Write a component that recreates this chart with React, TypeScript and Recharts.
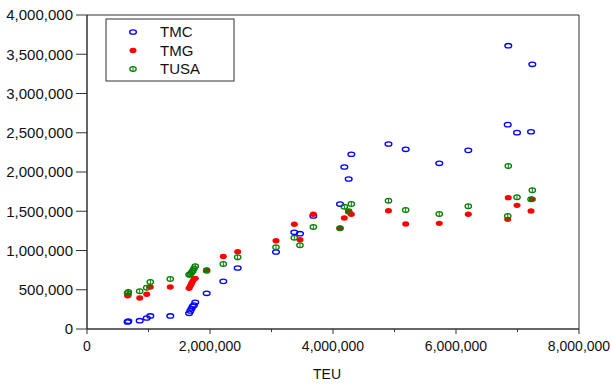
import React from 'react';
import { ScatterChart, Scatter, XAxis, YAxis, ReferenceArea } from 'recharts';

const teu = [
  660000, 672000, 857000, 971000, 1029000, 1354000,
  1660000, 1680000, 1700000, 1720000, 1740000, 1760000,
  1946000, 2216000, 2450000, 3073000, 3371000, 3463000, 3680000,
  4114000, 4184000, 4255000, 4298000, 4902000, 5182000, 5728000, 6200000,
  6841000, 6850000, 6992000, 7220000, 7241000,
];
const tmc = [
  90000, 100000, 106000, 140000, 166000, 166000,
  200000, 230000, 260000, 290000, 305000, 340000,
  455000, 607000, 777000, 981000, 1232000, 1214000, 1440000,
  1592000, 2064000, 1911000, 2226000, 2357000, 2289000, 2111000, 2276000,
  2603000, 3609000, 2501000, 2513000, 3372000,
];
const tmg = [
  424000, 433000, 395000, 442000, 535000, 535000,
  520000, 550000, 580000, 610000, 640000, 645000,
  752000, 924000, 985000, 1125000, 1334000, 1138000, 1461000,
  1283000, 1414000, 1490000, 1461000, 1507000, 1338000, 1346000, 1461000,
  1397000, 1673000, 1575000, 1503000, 1652000,
];
const tusa = [
  455000, 470000, 480000, 526000, 599000, 637000,
  690000, 700000, 720000, 740000, 770000, 800000,
  743000, 828000, 913000, 1040000, 1163000, 1066000, 1300000,
  1283000, 1558000, 1500000, 1592000, 1634000, 1516000, 1465000, 1563000,
  1440000, 2076000, 1678000, 1652000, 1767000,
];
const seriesNames = ['TMC', 'TMG', 'TUSA'];
const xTicks = [0, 1000000, 2000000, 3000000, 4000000, 5000000, 6000000, 7000000, 8000000];
const yTicks = [0, 500000, 1000000, 1500000, 2000000, 2500000, 3000000, 3500000, 4000000];
const xLabel = 'TEU';

const toPoints = (ys: number[]) => teu.map((x, i) => ({ x, y: ys[i] }));
const fmt = (v: number) => v.toLocaleString('en-US');
const FONT = '"Liberation Sans", Arial, sans-serif';
const AXIS = '#333333';

const BlueShape = (p: any) => (
  <ellipse cx={p.cx} cy={p.cy} rx={3.4} ry={2.2} fill="none" stroke="#0000ff" strokeWidth={1.3} />
);
const RedShape = (p: any) => (
  <ellipse cx={p.cx} cy={p.cy} rx={3.5} ry={2.7} fill="#ff0000" />
);
const GreenShape = (p: any) => (
  <g>
    <ellipse cx={p.cx} cy={p.cy} rx={3.2} ry={2.4} fill="none" stroke="#008000" strokeWidth={1.3} />
    <line x1={p.cx} x2={p.cx} y1={p.cy - 2.4} y2={p.cy + 2.4} stroke="#008000" strokeWidth={1} />
  </g>
);

const XTick = (props: any) => {
  const { x, y, payload } = props;
  const v = payload.value as number;
  const major = v % 2000000 === 0;
  return (
    <g>
      <line x1={x} x2={x} y1={y} y2={y + (major ? 5 : 3)} stroke={AXIS} />
      {major && (
        <text x={x} y={y + 22} textAnchor="middle" fontSize={14} fontFamily={FONT} fill="#111">
          {fmt(v)}
        </text>
      )}
    </g>
  );
};

const markers = [BlueShape, RedShape, GreenShape];

export default function App() {
  return (
    <div style={{ position: 'absolute', left: 0, top: 0, width: 611, height: 384, background: '#fff' }}>
      <ScatterChart width={611} height={384} margin={{ top: 15, right: 32, bottom: 0, left: 0 }}>
        <XAxis
          type="number"
          dataKey="x"
          domain={[0, 8000000]}
          ticks={xTicks}
          interval={0}
          tickSize={0}
          tickMargin={0}
          tickLine={false}
          tick={<XTick />}
          axisLine={{ stroke: AXIS }}
          height={55}
          label={{ value: xLabel, position: 'insideBottom', offset: 5, dx: -6, fontSize: 14, fontFamily: FONT, fill: '#111' }}
        />
        <YAxis
          type="number"
          dataKey="y"
          domain={[0, 4000000]}
          ticks={yTicks}
          interval={0}
          width={87}
          tickSize={11}
          tickMargin={3}
          tickLine={{ stroke: AXIS }}
          axisLine={{ stroke: AXIS }}
          tickFormatter={fmt}
          tick={{ fontSize: 15, fontFamily: FONT, fill: '#111' }}
        />
        <ReferenceArea x1={0} x2={8000000} y1={0} y2={4000000} fill="none" stroke={AXIS} strokeWidth={1} />
        <Scatter name={seriesNames[0]} data={toPoints(tmc)} shape={BlueShape} isAnimationActive={false} />
        <Scatter name={seriesNames[1]} data={toPoints(tmg)} shape={RedShape} isAnimationActive={false} />
        <Scatter name={seriesNames[2]} data={toPoints(tusa)} shape={GreenShape} isAnimationActive={false} />
      </ScatterChart>
      <svg width={130} height={64} style={{ position: 'absolute', left: 105, top: 18 }}>
        <rect x={1} y={1} width={128} height={62} fill="#fff" stroke={AXIS} strokeWidth={1} />
        {seriesNames.map((n, i) => {
          const M = markers[i];
          const cy = 14 + i * 18.5;
          return (
            <g key={n}>
              <M cx={28} cy={cy} />
              <text x={55} y={cy + 5} fontSize={15} fontFamily={FONT} fill="#111">{n}</text>
            </g>
          );
        })}
      </svg>
    </div>
  );
}
